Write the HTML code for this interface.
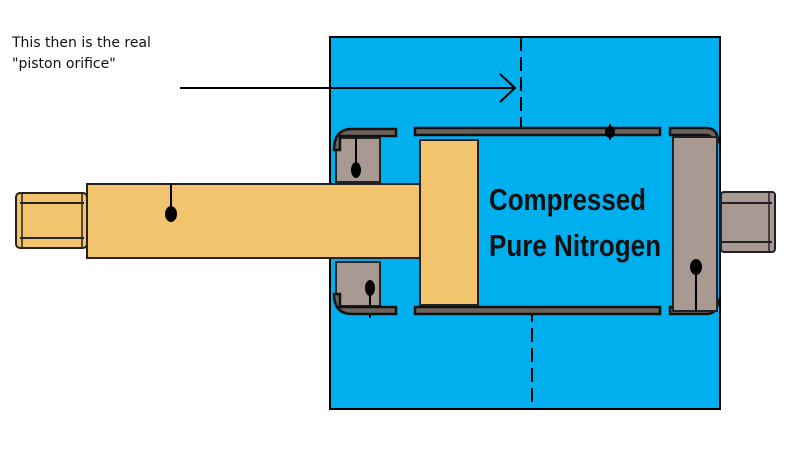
<!DOCTYPE html>
<html><head><meta charset="utf-8"><style>body{margin:0;background:#fff}svg{display:block}</style></head>
<body>
<svg width="800" height="450" viewBox="0 0 800 450" xmlns="http://www.w3.org/2000/svg">
<rect x="330" y="37" width="390" height="372" fill="#00b0ee" stroke="#000" stroke-width="2"/>
<line x1="521" y1="37" x2="521" y2="130" stroke="#000" stroke-width="2" stroke-dasharray="14,6"/>
<line x1="532" y1="308" x2="532" y2="409" stroke="#000" stroke-width="2" stroke-dasharray="14,6"/>
<line x1="180" y1="88" x2="514" y2="88" stroke="#000" stroke-width="2"/>
<polyline points="500,74 515,88 500,102" fill="none" stroke="#000" stroke-width="2"/>
<rect x="16" y="193" width="71" height="55" fill="#f2c46e" stroke="#222" stroke-width="2" rx="4"/>
<line x1="20" y1="203" x2="84" y2="203" stroke="#222" stroke-width="2"/>
<line x1="20" y1="238" x2="84" y2="238" stroke="#222" stroke-width="2"/>
<line x1="22" y1="194" x2="22" y2="247" stroke="#222" stroke-width="1.5"/>
<line x1="82" y1="194" x2="82" y2="247" stroke="#222" stroke-width="1.5"/>
<rect x="87" y="184" width="333" height="74" fill="#f2c46e" stroke="#222" stroke-width="2"/>
<line x1="171" y1="184" x2="171" y2="210" stroke="#000" stroke-width="2"/>
<ellipse cx="171" cy="214" rx="6" ry="8" fill="#000"/>
<rect x="336" y="138" width="44" height="44" fill="#a89a92" stroke="#222" stroke-width="2"/>
<rect x="336" y="262" width="44" height="44" fill="#a89a92" stroke="#222" stroke-width="2"/>
<line x1="356" y1="135" x2="356" y2="170" stroke="#000" stroke-width="2"/>
<ellipse cx="356" cy="170" rx="5" ry="8" fill="#000"/>
<line x1="370" y1="288" x2="370" y2="318" stroke="#000" stroke-width="2"/>
<ellipse cx="370" cy="288" rx="5" ry="8" fill="#000"/>
<g fill="#6e625c" stroke="#111" stroke-width="2.5">
<path d="M334 150 Q334 129 352 129 L396 129 L396 136 L340 136 L340 150 Z"/>
<path d="M334 294 Q334 314 352 314 L396 314 L396 307 L340 307 L340 294 Z"/>
<rect x="415" y="128" width="245" height="7"/>
<rect x="415" y="307" width="245" height="7"/>
<path d="M670 128 L706 128 Q718 128 718 142 L712 142 Q712 135 706 135 L670 135 Z"/>
<path d="M670 314 L706 314 Q718 314 718 300 L712 300 Q712 307 706 307 L670 307 Z"/>
</g>
<line x1="610" y1="124" x2="610" y2="140" stroke="#000" stroke-width="2"/>
<ellipse cx="610" cy="132" rx="5" ry="6" fill="#000"/>
<rect x="420" y="140" width="58" height="165" fill="#f2c46e" stroke="#222" stroke-width="2"/>
<rect x="673" y="137" width="44" height="174" fill="#a89a92" stroke="#222" stroke-width="2"/>
<line x1="696" y1="265" x2="696" y2="312" stroke="#000" stroke-width="2"/>
<ellipse cx="696" cy="267" rx="6" ry="8" fill="#000"/>
<rect x="721" y="192" width="54" height="60" fill="#a89a92" stroke="#222" stroke-width="2" rx="3"/>
<line x1="722" y1="203" x2="772" y2="203" stroke="#222" stroke-width="2"/>
<line x1="722" y1="242" x2="772" y2="242" stroke="#222" stroke-width="2"/>
<line x1="769" y1="193" x2="769" y2="251" stroke="#222" stroke-width="1.5"/>
<text x="489" y="210" font-family="Liberation Sans, sans-serif" font-weight="bold" font-size="31" fill="#111" textLength="157" lengthAdjust="spacingAndGlyphs">Compressed</text>
<text x="489" y="256" font-family="Liberation Sans, sans-serif" font-weight="bold" font-size="31" fill="#111" textLength="172" lengthAdjust="spacingAndGlyphs">Pure Nitrogen</text>
<text x="12" y="47" font-family="DejaVu Sans, sans-serif" font-size="14" fill="#111">This then is the real</text>
<text x="12" y="68" font-family="DejaVu Sans, sans-serif" font-size="14" fill="#111">"piston orifice"</text>
</svg>
</body></html>
